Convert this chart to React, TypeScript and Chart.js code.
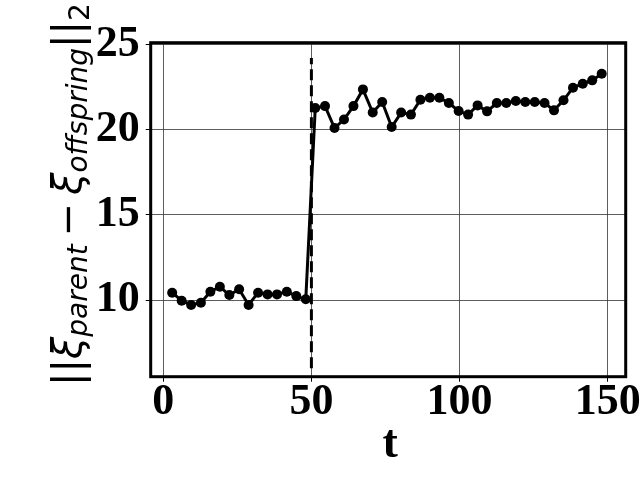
import React, { useEffect, useRef } from 'react';
import { Chart, registerables } from 'chart.js';

Chart.register(...registerables);

// time steps (t) and measured distance values
const T_VALUES = [
  3.0, 6.2, 9.4, 12.7, 15.9, 19.1, 22.3, 25.6, 28.8, 32.0, 35.2, 38.4, 41.7, 44.9, 48.1,
  51.3, 54.6, 57.8, 61.0, 64.2, 67.4, 70.7, 73.9, 77.1, 80.3, 83.6, 86.8, 90.0, 93.2, 96.4,
  99.7, 102.9, 106.1, 109.3, 112.6, 115.8, 119.0, 122.2, 125.4, 128.7, 131.9, 135.1, 138.3,
  141.6, 144.8, 148.0,
];
const DISTANCES = [
  10.43, 9.96, 9.71, 9.84, 10.49, 10.78, 10.29, 10.63, 9.71, 10.43, 10.33, 10.33, 10.49, 10.23, 10.04,
  21.27, 21.38, 20.09, 20.59, 21.38, 22.36, 21.0, 21.62, 20.15, 21.0, 20.88, 21.75, 21.87, 21.87, 21.56,
  21.09, 20.88, 21.42, 21.07, 21.56, 21.56, 21.68, 21.62, 21.62, 21.56, 21.13, 21.72, 22.46,
  22.69, 22.89, 23.28,
];
// vertical dashed marker
const CHANGE_T = [50, 50];
const CHANGE_Y = [6.0, 24.2];

const X_TICKS = [0, 50, 100, 150];
const Y_TICKS = [10, 15, 20, 25];
const X_RANGE = [-4.25, 156.1];
const Y_RANGE = [5.5, 25.1];
const X_TITLE = 't';

const MAIN = 40;
const SUB = 28;

const labelPlugin = {
  id: 'customLabels',
  afterDraw(chart: any) {
    const ctx = chart.ctx as CanvasRenderingContext2D;
    const a = chart.chartArea;
    ctx.save();
    // frame
    ctx.strokeStyle = '#000';
    ctx.lineWidth = 3;
    ctx.strokeRect(a.left, a.top, a.right - a.left, a.bottom - a.top);
    // x title
    ctx.fillStyle = '#000';
    ctx.font = 'bold 46px "Liberation Serif"';
    ctx.textAlign = 'center';
    ctx.textBaseline = 'alphabetic';
    ctx.fillText(X_TITLE, (a.left + a.right) / 2 + 2, 457);
    // y title (math-like)
    ctx.translate(81, 386);
    ctx.rotate(-Math.PI / 2);
    ctx.textAlign = 'left';
    const pieces = [
      { t: '||', f: `${MAIN}px "DejaVu Sans"`, dy: 0, gap: 0 },
      { t: 'ξ', f: `italic ${MAIN}px "DejaVu Sans"`, dy: 0, gap: 0 },
      { t: 'parent', f: `italic ${SUB}px "DejaVu Sans"`, dy: 6, gap: 0 },
      { t: '−', f: `${MAIN}px "DejaVu Sans"`, dy: 0, gap: 8 },
      { t: 'ξ', f: `italic ${MAIN}px "DejaVu Sans"`, dy: 0, gap: 8 },
      { t: 'offspring', f: `italic ${SUB}px "DejaVu Sans"`, dy: 6, gap: 0 },
      { t: '||', f: `${MAIN}px "DejaVu Sans"`, dy: 0, gap: 0 },
      { t: '2', f: `${SUB}px "DejaVu Sans"`, dy: 8, gap: 0 },
    ];
    let cx = 0;
    for (const p of pieces) {
      cx += p.gap;
      ctx.font = p.f;
      ctx.fillText(p.t, cx, p.dy);
      cx += ctx.measureText(p.t).width;
    }
    ctx.restore();
  },
};

const tickFont = { family: '"Liberation Serif"', weight: 'bold' as const, size: 44 };

export default function App() {
  const ref = useRef<HTMLCanvasElement | null>(null);
  useEffect(() => {
    if (!ref.current) return;
    const chart = new Chart(ref.current, {
      type: 'line',
      data: {
        datasets: [
          {
            data: T_VALUES.map((t, i) => ({ x: t, y: DISTANCES[i] })),
            borderColor: '#000',
            backgroundColor: '#000',
            borderWidth: 3,
            pointRadius: 5,
            pointBorderWidth: 0,
            pointBackgroundColor: '#000',
            tension: 0,
          },
          {
            data: CHANGE_T.map((t, i) => ({ x: t, y: CHANGE_Y[i] })),
            borderColor: '#000',
            borderWidth: 3,
            borderDash: [11, 5],
            pointRadius: 0,
            tension: 0,
          },
        ],
      },
      options: {
        responsive: false,
        animation: false,
        devicePixelRatio: 1,
        layout: { padding: { left: 0, right: 14.3, top: 42.7, bottom: 0 } },
        plugins: { legend: { display: false }, tooltip: { enabled: false } },
        scales: {
          x: {
            type: 'linear',
            min: X_RANGE[0],
            max: X_RANGE[1],
            afterBuildTicks: (s: any) => {
              s.ticks = X_TICKS.map((v) => ({ value: v }));
            },
            afterFit: (s: any) => {
              s.height = 103.3;
            },
            grid: { color: '#333', lineWidth: 0.8, tickLength: 5, tickColor: '#000', tickWidth: 1 },
            border: { display: false },
            ticks: { font: tickFont, color: '#000', padding: -5, maxRotation: 0 },
          },
          y: {
            type: 'linear',
            min: Y_RANGE[0],
            max: Y_RANGE[1],
            afterBuildTicks: (s: any) => {
              s.ticks = Y_TICKS.map((v) => ({ value: v }));
            },
            afterFit: (s: any) => {
              s.width = 150.7;
            },
            grid: { color: '#333', lineWidth: 0.8, tickLength: 5, tickColor: '#000', tickWidth: 1 },
            border: { display: false },
            ticks: { font: tickFont, color: '#000', padding: 6 },
          },
        },
      },
      plugins: [labelPlugin],
    });
    return () => chart.destroy();
  }, []);
  return (
    <div style={{ position: 'fixed', left: 0, top: 0, width: 640, height: 480, background: '#fff' }}>
      <canvas ref={ref} width={640} height={480} />
    </div>
  );
}
